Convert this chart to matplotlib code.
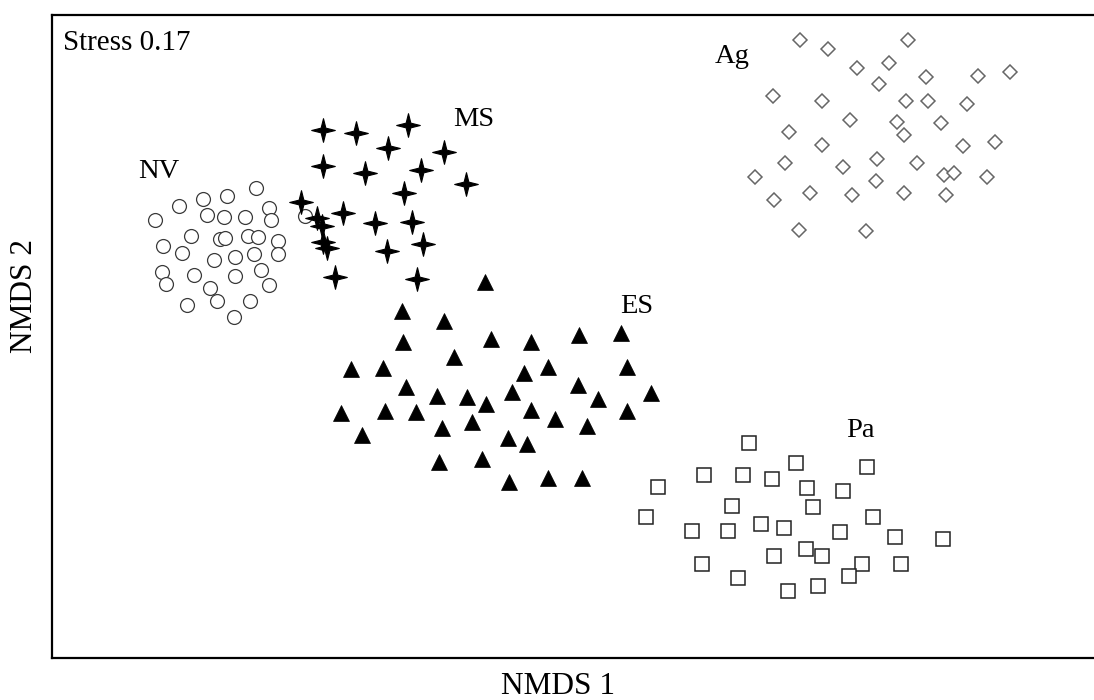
import numpy as np
import matplotlib
matplotlib.use("Agg")
import matplotlib.pyplot as plt
from matplotlib.path import Path

plt.rcParams['font.family'] = ['Liberation Serif', 'DejaVu Serif']

# NMDS site scores per group (ordination units, axis 2 increasing downwards)
nv_x = [256, 203, 227, 179, 269, 155, 207, 224, 245, 271, 191, 220, 225, 248, 258, 278, 163,
        182, 235, 254, 278, 214, 162, 166, 194, 235, 261, 269, 210, 217, 250, 187, 234, 305]
nv_y = [188, 199, 196, 206, 208, 220, 215, 217, 217, 220, 236, 239, 238, 236, 237, 241, 246,
        253, 257, 254, 254, 260, 272, 284, 275, 276, 270, 285, 288, 301, 301, 305, 317, 216]

ms_x = [323, 356, 408, 388, 444, 323, 365, 421, 466, 404, 301, 343, 375, 412, 317, 322,
        323, 327, 387, 423, 335, 417]
ms_y = [130, 133, 125, 148, 152, 166, 173, 170, 184, 193, 202, 213, 223, 222, 218, 226,
        242, 248, 251, 244, 277, 279]

es_x = [485, 402, 444, 403, 491, 531, 579, 621, 454, 351, 383, 524, 548, 627, 406, 437, 467,
        486, 512, 578, 598, 651, 341, 385, 416, 531, 555, 627, 442, 472, 587, 362, 508, 527,
        439, 482, 509, 548, 582]
es_y = [282, 311, 321, 342, 339, 342, 335, 333, 357, 369, 368, 373, 367, 367, 387, 396, 397,
        404, 392, 385, 399, 393, 413, 411, 412, 410, 419, 411, 428, 422, 426, 435, 438, 444,
        462, 459, 482, 478, 478]

ag_x = [800, 828, 908, 857, 889, 926, 879, 978, 1010, 773, 822, 906, 928, 967, 850, 897, 941,
        789, 904, 822, 963, 995, 785, 843, 877, 917, 944, 954, 987, 755, 876, 774, 810, 852,
        904, 946, 799, 866]
ag_y = [40, 49, 40, 68, 63, 77, 84, 76, 72, 96, 101, 101, 101, 104, 120, 122, 123,
        132, 135, 145, 146, 142, 163, 167, 159, 163, 175, 173, 177, 177, 181, 200, 193, 195,
        193, 195, 230, 231]

pa_x = [749, 796, 867, 704, 743, 772, 807, 843, 658, 732, 813, 646, 873, 692, 728, 761, 784,
        840, 895, 943, 774, 806, 822, 702, 862, 901, 849, 738, 788, 818]
pa_y = [443, 463, 467, 475, 475, 479, 488, 491, 487, 506, 507, 517, 517, 531, 531, 524, 528,
        532, 537, 539, 556, 549, 556, 564, 564, 564, 576, 578, 591, 586]

group_names = ["NV", "MS", "ES", "Ag", "Pa"]
label_x = [138, 453, 620, 715, 846]
label_y = [178, 126, 313, 63, 437]
stress = 0.17

# four-pointed star marker
w = 0.2
star = Path([(0, 1), (w, w), (1, 0), (w, -w), (0, -1), (-w, -w), (-1, 0), (-w, w), (0, 1)],
            [Path.MOVETO] + [Path.LINETO] * 7 + [Path.CLOSEPOLY])

fig = plt.figure(figsize=(10.94, 7.0), dpi=100)
ax = fig.add_axes([52 / 1094, 42 / 700, 1060 / 1094, 643 / 700])

ax.plot(nv_x, nv_y, 'o', ms=10, mfc='white', mec='#3a3a3a', mew=0.9, ls='none')
ax.plot(ms_x, ms_y, ls='none', marker=star, ms=17, mfc='black', mec='black', mew=0.8)
ax.plot(es_x, es_y, '^', ms=11, mfc='black', mec='black', mew=0.5, ls='none')
ax.plot(ag_x, ag_y, 'D', ms=7.2, mfc='white', mec='#666666', mew=1.1, ls='none')
ax.plot(pa_x, pa_y, 's', ms=10, mfc='white', mec='#222222', mew=1.1, ls='none')

for name, lx, ly in zip(group_names, label_x, label_y):
    ax.text(lx, ly, name, fontsize=20.5, ha='left', va='baseline')

ax.text(63, 50, "Stress %.2f" % stress, fontsize=21, ha='left', va='baseline')

ax.set_xlim(52, 1112)
ax.set_ylim(658, 15)
ax.set_xticks([])
ax.set_yticks([])
for side in ['left', 'top', 'bottom']:
    ax.spines[side].set_linewidth(1.6)
ax.spines['right'].set_visible(False)

# axis titles, positioned in figure fractions
fig.text(558 / 1094, 1 - 694 / 700, "NMDS 1", fontsize=22.5, ha='center', va='baseline')
fig.text(25 / 1094, 1 - 296 / 700, "NMDS 2", fontsize=22.5, rotation=90,
         ha='center', va='center')

fig.savefig("out.png", dpi=100)
